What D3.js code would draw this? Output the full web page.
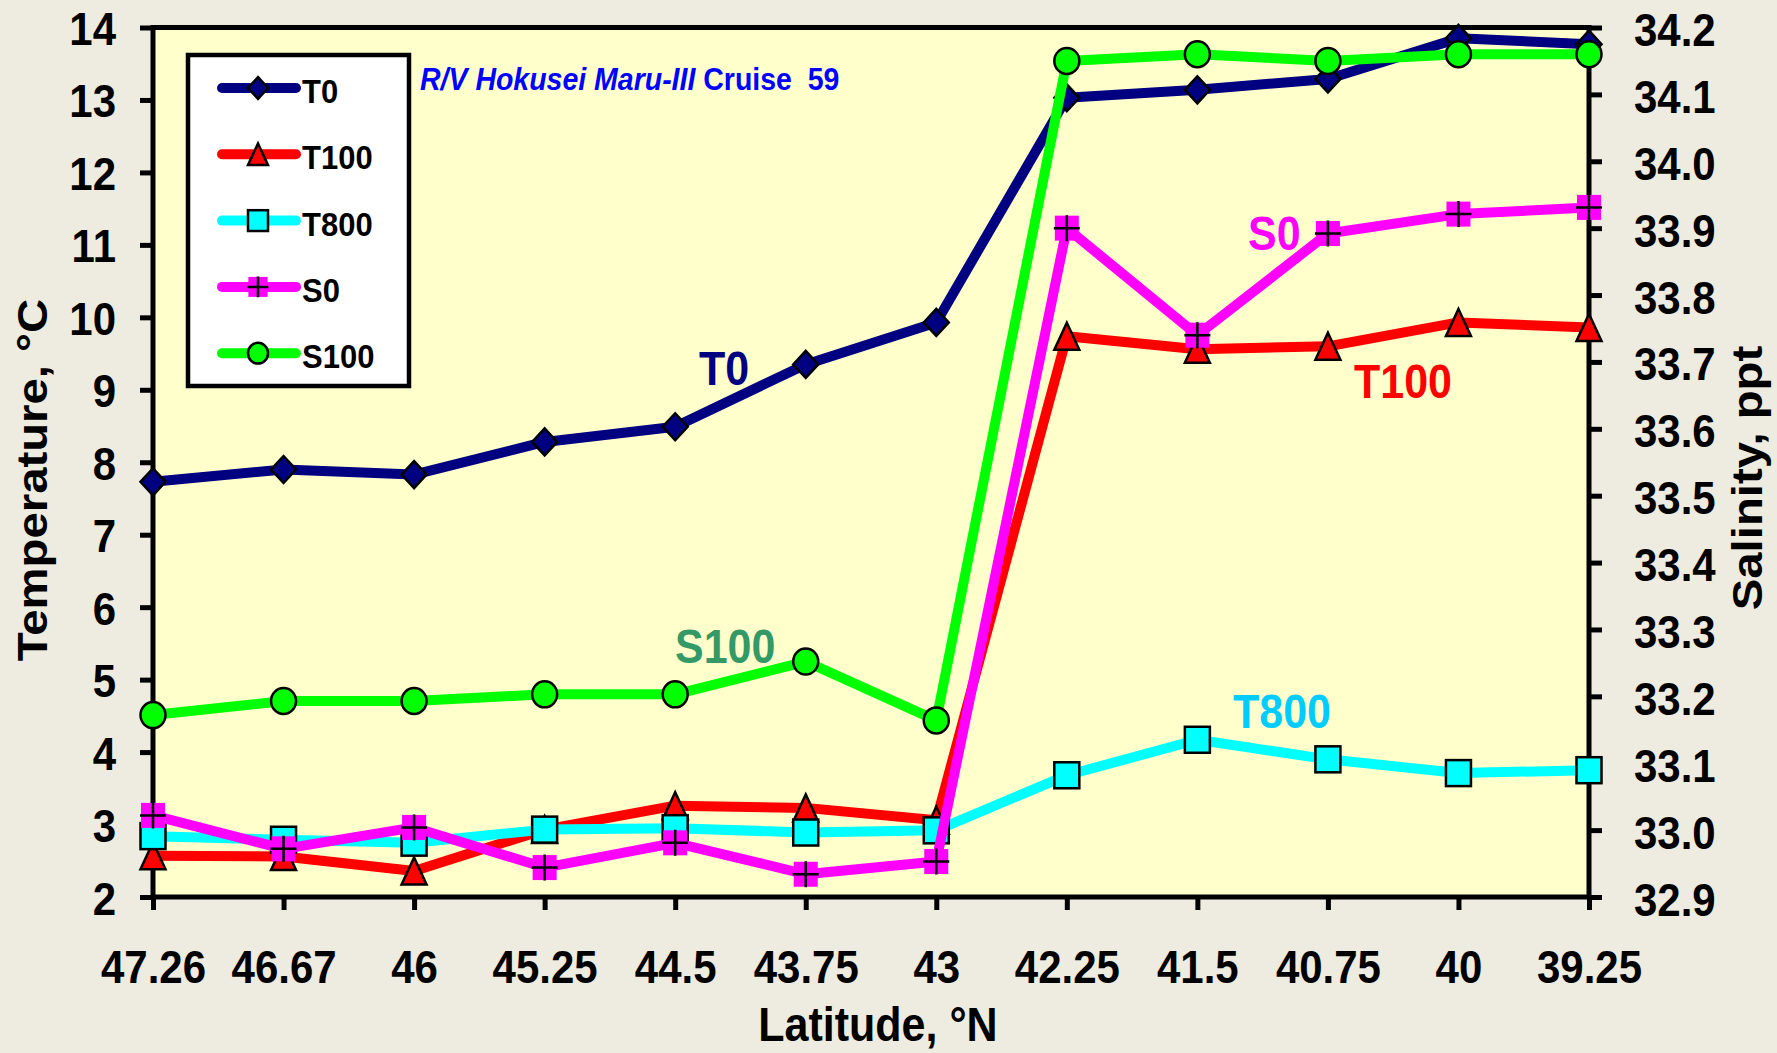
<!DOCTYPE html>
<html>
<head>
<meta charset="utf-8">
<script src="https://cdn.jsdelivr.net/npm/d3@7"></script>
<style>
  html, body { margin: 0; padding: 0; background: #EEEBE0; }
  svg { display: block; }
  text { font-family: Arial, "Liberation Sans", sans-serif; font-weight: bold; }
</style>
</head>
<body>
<svg id="chart" width="1777" height="1053"></svg>
<script>
// ---- data ----
const latitudes = ["47.26","46.67","46","45.25","44.5","43.75","43","42.25","41.5","40.75","40","39.25"];
const T0   = [7.73, 7.90, 7.83, 8.28, 8.49, 9.35, 9.93, 13.03, 13.14, 13.29, 13.85, 13.77];
const T100 = [2.57, 2.56, 2.36, 2.93, 3.26, 3.23, 3.06, 9.74, 9.56, 9.60, 9.93, 9.86];
const T800 = [2.84, 2.79, 2.75, 2.93, 2.95, 2.89, 2.92, 3.68, 4.17, 3.90, 3.71, 3.75];
const S0   = [33.022, 32.972, 33.004, 32.944, 32.981, 32.934, 32.953, 33.900, 33.740, 33.892, 33.921, 33.931];
const S100 = [33.172, 33.193, 33.193, 33.203, 33.203, 33.252, 33.164, 34.150, 34.160, 34.150, 34.160, 34.160];
const tempTicks = [2,3,4,5,6,7,8,9,10,11,12,13,14];
const salTicks = [32.9,33.0,33.1,33.2,33.3,33.4,33.5,33.6,33.7,33.8,33.9,34.0,34.1,34.2];
const seriesNames = ["T0","T100","T800","S0","S100"];

// ---- layout ----
const L = 153, R = 1589, T = 27.5, B = 897;
const svg = d3.select("#chart");
const x = d3.scalePoint().domain(latitudes).range([L, R]);
const yT = d3.scaleLinear().domain([2, 14]).range([B, T]);
const yS = d3.scaleLinear().domain([32.9, 34.2]).range([B, T]);
const VS = 1.1; // vertical stretch of text, as in the original picture

const series = [
  {name: "T0",   values: T0,   axis: yT, color: "#000080", marker: "diamond"},
  {name: "T100", values: T100, axis: yT, color: "#FF0000", marker: "triangle"},
  {name: "T800", values: T800, axis: yT, color: "#00FFFF", marker: "square"},
  {name: "S0",   values: S0,   axis: yS, color: "#FF00FF", marker: "plus"},
  {name: "S100", values: S100, axis: yS, color: "#00FF00", marker: "circle"}
];

// plot background + frame
svg.append("rect").attr("x", L).attr("y", T).attr("width", R - L).attr("height", B - T)
  .attr("fill", "#FFFFCC").attr("stroke", "#000").attr("stroke-width", 5);

// axes
function styleAxis(g) {
  g.select(".domain").remove();
  g.selectAll(".tick line").attr("stroke", "#000").attr("stroke-width", 5);
  g.selectAll(".tick text").attr("fill", "#000").attr("font-size", 42)
    .attr("font-family", "Arial, 'Liberation Sans', sans-serif").attr("font-weight", "bold")
    .attr("x", null).attr("y", null).attr("dy", null);
}
const gx = svg.append("g").attr("transform", `translate(0,${B})`)
  .call(d3.axisBottom(x).tickSize(13).tickSizeOuter(0));
styleAxis(gx);
gx.selectAll(".tick text").attr("text-anchor", "middle")
  .attr("transform", `translate(0,86) scale(1,${VS})`);

const gl = svg.append("g").attr("transform", `translate(${L},0)`)
  .call(d3.axisLeft(yT).tickValues(tempTicks).tickFormat(d3.format("d")).tickSize(13).tickSizeOuter(0));
styleAxis(gl);
gl.selectAll(".tick text").attr("text-anchor", "end")
  .attr("transform", `translate(-37,17) scale(1,${VS})`);

const gr = svg.append("g").attr("transform", `translate(${R},0)`)
  .call(d3.axisRight(yS).tickValues(salTicks).tickFormat(d3.format(".1f")).tickSize(13).tickSizeOuter(0));
styleAxis(gr);
gr.selectAll(".tick text").attr("text-anchor", "start")
  .attr("transform", `translate(45,18) scale(1,${VS})`);

// axis titles
svg.append("text").attr("transform", `translate(878,1041) scale(1,${VS})`)
  .attr("text-anchor", "middle").attr("font-size", 43).attr("fill", "#000").text("Latitude, °N");
svg.append("text").attr("transform", `translate(47,480) rotate(-90) scale(${VS},1)`)
  .attr("text-anchor", "middle").attr("font-size", 43).attr("fill", "#000").text("Temperature, °C");
svg.append("text").attr("transform", `translate(1762,478) rotate(-90) scale(${VS},1)`)
  .attr("text-anchor", "middle").attr("font-size", 43).attr("fill", "#000").text("Salinity, ppt");

// markers
function drawMarker(g, type, color, k) {
  const w = 12.5 * k, h = 13.5 * k;
  if (type === "diamond") {
    g.append("path").attr("d", `M0,${-h}L${w},0L0,${h}L${-w},0Z`)
      .attr("fill", color).attr("stroke", "#000").attr("stroke-width", 2.5);
  } else if (type === "triangle") {
    g.append("path").attr("d", `M0,${-h}L${w},${h}L${-w},${h}Z`)
      .attr("fill", color).attr("stroke", "#000").attr("stroke-width", 2.5).attr("stroke-linejoin", "miter");
  } else if (type === "square") {
    g.append("rect").attr("x", -w).attr("y", -13 * k).attr("width", 2 * w).attr("height", 26 * k)
      .attr("fill", color).attr("stroke", "#000").attr("stroke-width", 2.5);
  } else if (type === "circle") {
    g.append("ellipse").attr("rx", w).attr("ry", 13 * k)
      .attr("fill", color).attr("stroke", "#000").attr("stroke-width", 2.5);
  } else if (type === "plus") {
    g.append("rect").attr("x", -12 * k).attr("y", -12.5 * k).attr("width", 24 * k).attr("height", 25 * k)
      .attr("fill", color);
    g.append("path").attr("d", `M${-13 * k},0H${13 * k}M0,${-13 * k}V${13 * k}`)
      .attr("stroke", "#000").attr("stroke-width", 2.5).attr("fill", "none");
  }
}

// series
series.forEach(s => {
  const pts = latitudes.map((lat, i) => [x(lat), s.axis(s.values[i])]);
  const g = svg.append("g").attr("class", "series-" + s.name);
  g.append("path").attr("d", d3.line()(pts)).attr("fill", "none")
    .attr("stroke", s.color).attr("stroke-width", 10)
    .attr("stroke-linejoin", "round").attr("stroke-linecap", "round");
  pts.forEach(p => {
    const mg = g.append("g").attr("transform", `translate(${p[0]},${p[1]})`);
    drawMarker(mg, s.marker, s.color, 1);
  });
});

// series annotations
const labels = [
  {text: "T0",   x: 699,  y: 385, color: "#000080"},
  {text: "S100", x: 675,  y: 663, color: "#339966"},
  {text: "T800", x: 1233, y: 728, color: "#00CCFF"},
  {text: "S0",   x: 1248, y: 250, color: "#FF00FF"},
  {text: "T100", x: 1354, y: 398, color: "#FF0000"}
];
labels.forEach(l => {
  svg.append("text").attr("transform", `translate(${l.x},${l.y}) scale(1,${VS})`)
    .attr("font-size", 43).attr("fill", l.color).text(l.text);
});

// subtitle
const sub = svg.append("text").attr("transform", `translate(420,90) scale(1,${VS})`)
  .attr("font-size", 28.5).attr("fill", "#0000FF");
sub.append("tspan").attr("font-style", "italic").text("R/V Hokusei Maru-III");
sub.append("tspan").text(" Cruise\u00A0 59");

// legend
const lg = svg.append("g");
lg.append("rect").attr("x", 188).attr("y", 55).attr("width", 221).attr("height", 331)
  .attr("fill", "#FFFFFF").attr("stroke", "#000").attr("stroke-width", 4.5);
series.forEach((s, i) => {
  const ry = 88 + i * 66.3;
  lg.append("line").attr("x1", 222).attr("x2", 296).attr("y1", ry).attr("y2", ry)
    .attr("stroke", s.color).attr("stroke-width", 10).attr("stroke-linecap", "round");
  const mg = lg.append("g").attr("transform", `translate(258,${ry})`);
  drawMarker(mg, s.marker, s.color, 0.8);
  lg.append("text").attr("transform", `translate(302,${ry + 15}) scale(1,${VS})`)
    .attr("font-size", 31).attr("fill", "#000").text(seriesNames[i]);
});
</script>
</body>
</html>
